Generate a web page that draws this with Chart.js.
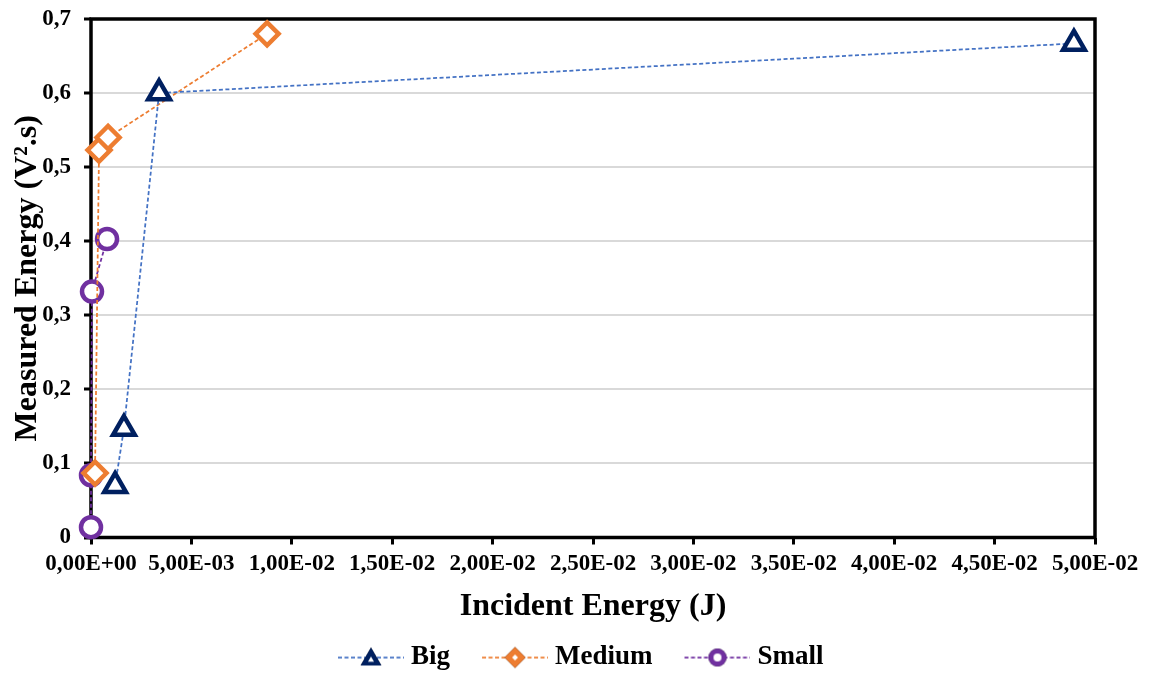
<!DOCTYPE html>
<html>
<head>
<meta charset="utf-8">
<script src="https://cdn.jsdelivr.net/npm/chart.js@4/dist/chart.umd.min.js"></script>
<style>
  html, body { margin: 0; padding: 0; background: #fff; }
  #wrap { width: 1150px; height: 675px; }
</style>
</head>
<body>
<div id="wrap"><canvas id="chartCanvas" width="1150" height="675"></canvas></div>
<script>
    /********** DATI **********/
    const seriesNames = ["Big", "Medium", "Small"];
    const bigX = [0.0012, 0.00164, 0.00339, 0.04895];
    const bigY = [0.07, 0.147, 0.6, 0.667];
    const mediumX = [0.0002, 0.0004, 0.00085, 0.00877];
    const mediumY = [0.087, 0.523, 0.54, 0.68];
    const smallX = [0.0, 0.0, 0.00005, 0.0008];
    const smallY = [0.014, 0.084, 0.332, 0.403];

    const lineColors = ["#4472C4", "#ED7D31", "#7030A0"];
    const markerColors = ["#002060", "#ED7D31", "#7030A0"];
    const markerStyles = ["triangle", "rectRot", "circle"];
    const markerSizes = [12.5, 11.5, 10];
    const iconSizes = [12, 10.5, 9];
    const holeSizes = [3.5, 3, 4];

    const serif = "'Liberation Serif', 'Times New Roman', serif";

    function toPoints(xs, ys) {
      return xs.map((x, i) => ({ x: x, y: ys[i] }));
    }

    // formato 0,00E+00
    function sci(v) {
      if (Math.abs(v) < 1e-12) v = 0;
      const parts = v.toExponential(2).split("e");
      const sign = parts[1][0];
      const exp = parts[1].slice(1).padStart(2, "0");
      return parts[0].replace(".", ",") + "E" + sign + exp;
    }

    /********** ICONE DELLA LEGENDA (linea tratteggiata + marker) **********/
    // tela larga 92, il disegno occupa gli ultimi 66 px
    function legendIcon(idx) {
      const c = document.createElement("canvas");
      c.width = 92; c.height = 30;
      const g = c.getContext("2d");
      const x0 = 26, cy = 15, cx = x0 + 33;
      g.strokeStyle = lineColors[idx];
      g.lineWidth = 1.75;
      g.setLineDash([4, 2.5]);
      g.beginPath(); g.moveTo(x0, cy); g.lineTo(x0 + 66, cy); g.stroke();
      g.setLineDash([]);
      const base = { pointStyle: markerStyles[idx], rotation: 0, borderWidth: 0 };
      Chart.helpers.drawPoint(g, Object.assign({}, base, { radius: iconSizes[idx] }), cx, cy + (idx === 0 ? 2 : 0));
      g.fillStyle = markerColors[idx];
      g.fill();
      Chart.helpers.drawPoint(g, Object.assign({}, base, { radius: holeSizes[idx] }), cx, cy + (idx === 0 ? 2.5 : 0));
      g.fillStyle = "#fff";
      g.fill();
      return c;
    }

    const datasets = [
      toPoints(bigX, bigY),
      toPoints(mediumX, mediumY),
      toPoints(smallX, smallY)
    ].map((pts, idx) => ({
      label: seriesNames[idx],
      data: pts,
      showLine: true,
      borderColor: lineColors[idx],
      borderWidth: 1.75,
      borderDash: [4, 2.5],
      tension: 0,
      fill: false,
      clip: false,
      pointStyle: markerStyles[idx],
      pointRadius: markerSizes[idx],
      pointBorderWidth: 4.5,
      pointBorderColor: markerColors[idx],
      pointBackgroundColor: "#fff",
      pointHoverRadius: markerSizes[idx]
    }));

    // cornice nera attorno all'area del grafico + legenda spostata
    const frame = {
      id: "frame",
      afterLayout(chart) {
        const lg = chart.legend;
        lg.left -= 22; lg.right -= 22;
        lg.top += 6; lg.bottom += 6;
      },
      beforeDatasetsDraw(chart) {
        const a = chart.chartArea, ctx = chart.ctx;
        ctx.save();
        ctx.strokeStyle = "#000";
        ctx.lineWidth = 3.5;
        ctx.strokeRect(a.left, a.top, a.right - a.left, a.bottom - a.top);
        ctx.restore();
      }
    };

    /********** CHART.JS SETUP **********/
    const ctx = document.getElementById("chartCanvas").getContext("2d");
    const chartInstance = new Chart(ctx, {
      type: "scatter",
      data: { datasets: datasets },
      plugins: [frame],
      options: {
        responsive: false,
        animation: false,
        layout: { padding: { left: 0, right: 55, top: 19, bottom: 0 } },
        plugins: {
          legend: {
            display: true,
            position: "bottom",
            fullSize: false,
            labels: {
              usePointStyle: true,
              pointStyleWidth: 79,
              padding: 12.5,
              color: "#000",
              font: { family: serif, size: 27, weight: "bold" },
              generateLabels: chart => chart.data.datasets.map((ds, i) => ({
                text: ds.label,
                pointStyle: legendIcon(i),
                rotation: 0,
                fontColor: "#000",
                lineWidth: 0,
                hidden: false,
                datasetIndex: i
              }))
            }
          },
          tooltip: { enabled: false }
        },
        scales: {
          x: {
            type: "linear",
            min: 0,
            max: 0.05,
            afterFit: s => { s.height = 88; },
            ticks: {
              stepSize: 0.005,
              color: "#000",
              padding: 6,
              maxRotation: 0,
              autoSkip: false,
              font: { family: serif, size: 23, weight: "bold" },
              callback: v => sci(v)
            },
            grid: { drawOnChartArea: false, drawTicks: true, tickLength: 7, tickColor: "#000", lineWidth: 3 },
            border: { display: false },
            title: {
              display: true,
              text: "Incident Energy (J)",
              color: "#000",
              padding: { top: 0, bottom: 0 },
              font: { family: serif, size: 32, weight: "bold" }
            }
          },
          y: {
            min: 0,
            max: 0.7,
            afterFit: s => {
              s.width = 91;
              // le etichette non devono spingere giù l'area del grafico
              s.paddingTop = 0;
              s.paddingBottom = 0;
            },
            ticks: {
              stepSize: 0.1,
              color: "#000",
              padding: 13,
              font: { family: serif, size: 23, weight: "bold" },
              callback: v => (Math.abs(v) < 1e-9 ? "0" : v.toFixed(1).replace(".", ","))
            },
            grid: { color: "#d9d9d9", lineWidth: 2, tickLength: 7, tickColor: "#000", tickWidth: 3 },
            border: { display: false },
            title: {
              display: true,
              text: "Measured Energy (V².s)",
              color: "#000",
              padding: { top: 9, bottom: 0 },
              font: { family: serif, size: 32, weight: "bold" }
            }
          }
        }
      }
    });
</script>
</body>
</html>
